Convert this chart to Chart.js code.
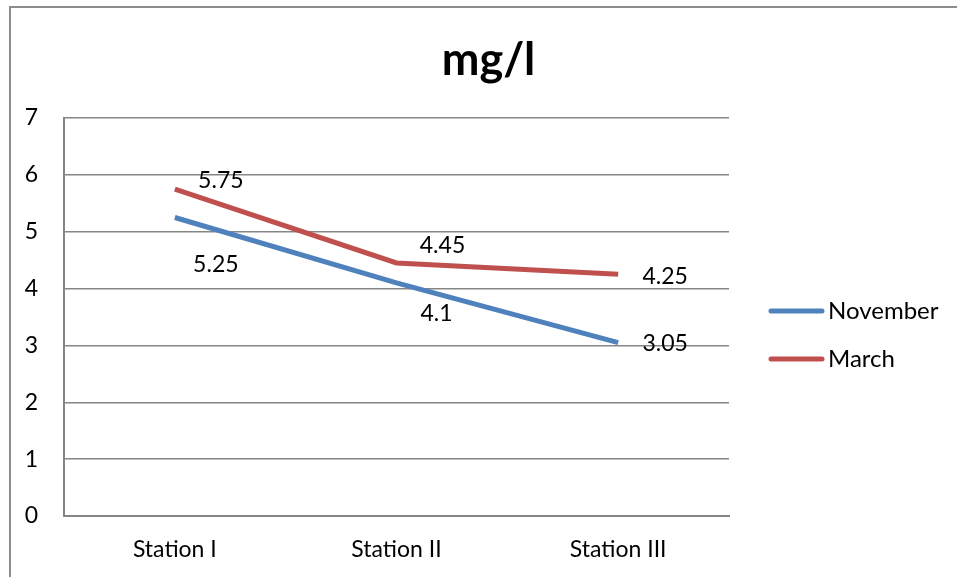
<html>
<head>
<script src="https://cdn.jsdelivr.net/npm/chart.js"></script>
<style>
body{margin:0;background:#fff;}
#frame{position:absolute;left:9px;top:6px;width:960px;height:600px;border-left:2px solid #8c8c8c;border-top:2px solid #8c8c8c;}
#wrap{position:absolute;left:0;top:0;width:957px;height:577px;}
</style>
</head>
<body>
<div id="frame"></div>
<div id="wrap"><canvas id="c" width="957" height="577"></canvas></div>
<script>
// chart values
var stations = ['Station I', 'Station II', 'Station III'];
var november = [5.25, 4.1, 3.05];
var march = [5.75, 4.45, 4.25];
var yTicks = [0, 1, 2, 3, 4, 5, 6, 7];

var FONT = 'Lato, "Open Sans", sans-serif';

// label offsets per dataset (px from the point)
var labelOffsets = [
  [[41, 47], [40, 31], [47, 1]],
  [[46, -8], [46, -17], [47, 2]]
];

var extras = {
  id: 'extras',
  afterDatasetsDraw: function(chart){
    var ctx = chart.ctx;
    ctx.save();
    ctx.font = '23px ' + FONT;
    ctx.fillStyle = '#000';
    ctx.textAlign = 'center';
    ctx.textBaseline = 'middle';
    chart.data.datasets.forEach(function(ds, i){
      var meta = chart.getDatasetMeta(i);
      meta.data.forEach(function(pt, j){
        var o = labelOffsets[i][j];
        ctx.fillText(String(ds.data[j]), pt.x + o[0], pt.y + o[1]);
      });
    });
    // legend
    var a = chart.chartArea;
    ctx.textAlign = 'left';
    ctx.font = '24px ' + FONT;
    chart.data.datasets.forEach(function(ds, i){
      var y = 311 + i * 48;
      ctx.strokeStyle = ds.borderColor;
      ctx.lineWidth = 5;
      ctx.lineCap = 'round';
      ctx.beginPath();
      ctx.moveTo(a.right + 42, y);
      ctx.lineTo(a.right + 93, y);
      ctx.stroke();
      ctx.fillText(ds.label, a.right + 99, y);
    });
    ctx.restore();
  }
};

new Chart(document.getElementById('c'), {
  type: 'line',
  data: {
    labels: stations,
    datasets: [{
      label: 'November',
      data: november,
      borderColor: '#4F81BD',
      backgroundColor: '#4F81BD',
      borderWidth: 5,
      pointRadius: 0,
      tension: 0
    }, {
      label: 'March',
      data: march,
      borderColor: '#C0504D',
      backgroundColor: '#C0504D',
      borderWidth: 5,
      pointRadius: 0,
      tension: 0
    }]
  },
  options: {
    responsive: false,
    animation: false,
    layout: {padding: {left: 20, right: 0, top: 0, bottom: 0}},
    plugins: {
      legend: {display: false},
      tooltip: {enabled: false},
      title: {
        display: true,
        text: 'mg/l',
        color: '#000',
        font: {family: FONT, size: 45, weight: 'bold'},
        padding: {top: 33, bottom: 31}
      }
    },
    scales: {
      x: {
        offset: true,
        grid: {display: false, drawTicks: false},
        border: {display: true, color: '#868686', width: 2},
        ticks: {color: '#000', font: {family: FONT, size: 23}, padding: 20},
        afterFit: function(s){ s.height = 61; }
      },
      y: {
        min: 0, max: 7,
        afterBuildTicks: function(s){ s.ticks = yTicks.map(function(v){ return {value: v}; }); },
        grid: {color: '#868686', lineWidth: 1.5, drawTicks: false},
        border: {display: true, color: '#868686', width: 2},
        ticks: {color: '#000', font: {family: FONT, size: 23}, padding: 26},
        afterFit: function(s){ s.width = 44; }
      },
      side: {
        type: 'linear',
        axis: 'y',
        position: 'right',
        display: true,
        grid: {display: false, drawTicks: false},
        border: {display: false},
        ticks: {display: false},
        afterFit: function(s){ s.width = 228; }
      }
    }
  },
  plugins: [extras]
});
</script>
</body>
</html>
